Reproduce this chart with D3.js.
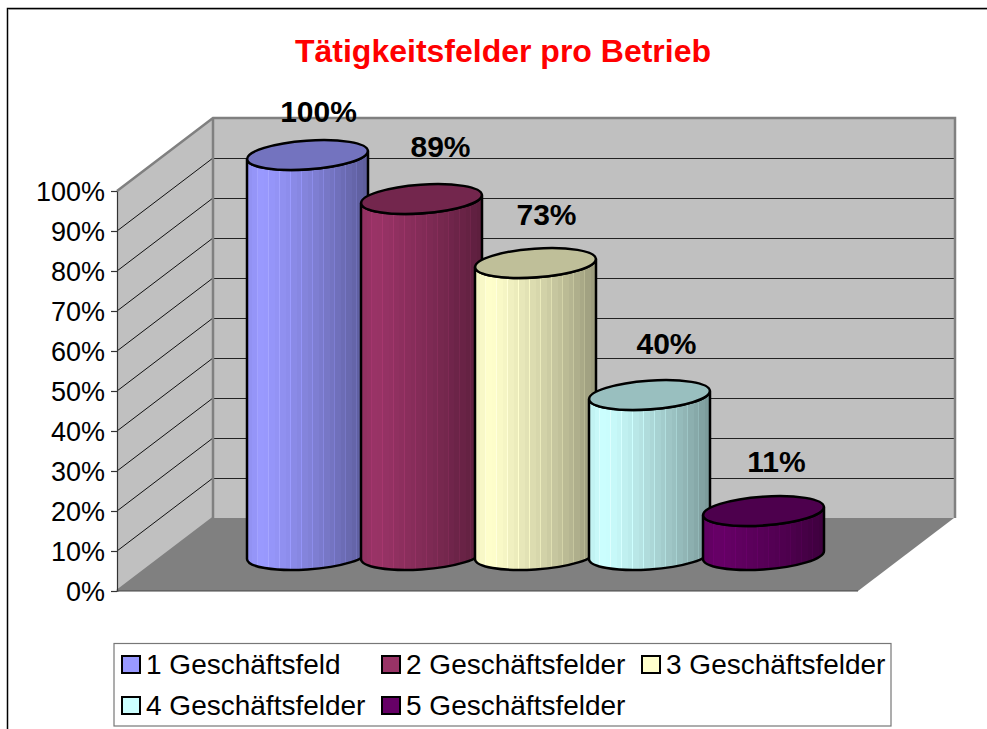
<!DOCTYPE html>
<html>
<head>
<meta charset="utf-8">
<script src="https://cdn.jsdelivr.net/npm/d3@7"></script>
<style>
  body { margin: 0; background: #fff; }
  svg { display: block; font-family: "Liberation Sans", Arial, sans-serif; }
</style>
</head>
<body>
<svg id="chart" width="987" height="729"></svg>
<script>
const categories = ["1 Geschäftsfeld", "2 Geschäftsfelder", "3 Geschäftsfelder", "4 Geschäftsfelder", "5 Geschäftsfelder"];
const values = [1.0, 0.89, 0.73, 0.4, 0.11];
const valueLabels = ["100%", "89%", "73%", "40%", "11%"];
const colors = ["#9999FF", "#993366", "#FFFFCC", "#CCFFFF", "#660066"];
const ticks = [0, 0.1, 0.2, 0.3, 0.4, 0.5, 0.6, 0.7, 0.8, 0.9, 1];

// label offsets from the top of each cylinder
const labelDx = [11, 19, 11, 17, 13];
const labelDy = [-33, -42, -38, -41, -39];
const legendX = [122, 382, 642, 122, 382];
const legendY = [665, 665, 665, 706, 706];

const depthX = 96, depthY = 73;
const left = 117, right = 858;
const rx = 60.5, ry = 14.4, tilt = -4, edgeDy = 4;
const liftY = 36;

const svg = d3.select("#chart");
const y = d3.scaleLinear().domain([0, 1]).range([591, 191]);
const x = d3.scaleBand().domain(categories).range([250.5, 820.5]);

// outer frame
svg.append("path").attr("d", "M987,8.5H7.5V729").attr("fill", "none").attr("stroke", "#000").attr("stroke-width", 1.5);
svg.append("path").attr("d", "M987,9.5H8").attr("fill", "none").attr("stroke", "#999").attr("stroke-width", 1);

svg.append("text")
  .attr("x", 503).attr("y", 62)
  .attr("text-anchor", "middle")
  .attr("font-size", 32).attr("font-weight", "bold")
  .attr("fill", "#FF0000")
  .text("Tätigkeitsfelder pro Betrieb");

// walls and floor
const poly = (pts) => "M" + pts.map((p) => p.join(",")).join("L") + "Z";
svg.append("path")
  .attr("d", poly([[left, y(1)], [left + depthX, y(1) - depthY], [left + depthX, y(0) - depthY], [left, y(0)]]))
  .attr("fill", "#C0C0C0");
svg.append("path")
  .attr("d", poly([[left + depthX, y(1) - depthY], [right + depthX + 1, y(1) - depthY], [right + depthX + 1, y(0) - depthY], [left + depthX, y(0) - depthY]]))
  .attr("fill", "#C0C0C0");
svg.append("path")
  .attr("d", poly([[left, y(0)], [left + depthX, y(0) - depthY], [right + depthX, y(0) - depthY], [right, y(0)]]))
  .attr("fill", "#808080");

// gridlines, side wall then back wall
ticks.slice(1, -1).forEach((t) => {
  svg.append("line")
    .attr("x1", left).attr("y1", y(t))
    .attr("x2", left + depthX).attr("y2", y(t) - depthY)
    .attr("stroke", "#111").attr("stroke-width", 1);
  svg.append("line")
    .attr("x1", left + depthX).attr("y1", y(t) - depthY + 0.5)
    .attr("x2", right + depthX).attr("y2", y(t) - depthY + 0.5)
    .attr("stroke", "#222").attr("stroke-width", 1);
});

// grey wall edges
svg.append("path")
  .attr("d", `M${left},${y(1)}L${left + depthX},${y(1) - depthY}H${right + depthX + 1}V${y(0) - depthY}`)
  .attr("fill", "none").attr("stroke", "#808080").attr("stroke-width", 2.5);
svg.append("path")
  .attr("d", `M${left + depthX},${y(1) - depthY}V${y(0) - depthY}L${left},${y(0)}`)
  .attr("fill", "none").attr("stroke", "#808080").attr("stroke-width", 2.5);

// y axis
const axis = svg.append("g")
  .attr("transform", `translate(${left},0)`)
  .call(d3.axisLeft(y).tickValues(ticks).tickFormat(d3.format(".0%")).tickSize(6).tickPadding(6).tickSizeOuter(0));
axis.selectAll("path, line").attr("stroke", "#333").attr("stroke-width", 1.2);
axis.selectAll("text").attr("font-size", 27).attr("dy", "0.36em").attr("fill", "#000").attr("font-family", "Liberation Sans");
svg.append("line")
  .attr("x1", left).attr("y1", y(0)).attr("x2", right).attr("y2", y(0))
  .attr("stroke", "#444").attr("stroke-width", 1.2);

// shading across a cylinder, in flat strips like the original
const defs = svg.append("defs");
const strips = 22;
const shade = (t) => (t < 0.12 ? 0.94 + t / 2 : 1 - 0.4 * Math.pow((t - 0.12) / 0.88, 1.2));
colors.forEach((c, i) => {
  const g = defs.append("linearGradient").attr("id", `cyl${i}`);
  const base = d3.rgb(c);
  d3.range(strips).forEach((s) => {
    const k = shade((s + 0.5) / strips);
    const col = d3.rgb(base.r * k, base.g * k, base.b * k).formatHex();
    const edge = d3.rgb(base.r * k, base.g * k, base.b * k).brighter(0.25).formatHex();
    const end = (s + 1) / strips;
    g.append("stop").attr("offset", s / strips).attr("stop-color", col);
    g.append("stop").attr("offset", end - 0.008).attr("stop-color", col);
    // faint seam between strips
    g.append("stop").attr("offset", end - 0.008).attr("stop-color", s % 2 ? edge : col);
    g.append("stop").attr("offset", end).attr("stop-color", s % 2 ? edge : col);
  });
});

categories.forEach((name, i) => {
  const cx = x(name) + x.bandwidth() / 2;
  const topY = y(values[i]) - liftY;
  const botY = y(0) - liftY;
  const arc = (sweep, px, py) => `A${rx},${ry} ${tilt} 0 ${sweep} ${px},${py}`;
  const g = svg.append("g").attr("stroke", "#000").attr("stroke-width", 2.5).attr("stroke-linejoin", "round");

  g.append("path")
    .attr("d",
      `M${cx - rx},${topY + edgeDy}L${cx - rx},${botY + edgeDy}` +
      arc(0, cx + rx, botY - edgeDy) +
      `L${cx + rx},${topY - edgeDy}` +
      arc(1, cx - rx, topY + edgeDy) + "Z")
    .attr("fill", `url(#cyl${i})`);

  const b = d3.rgb(colors[i]);
  g.append("ellipse")
    .attr("transform", `translate(${cx},${topY}) rotate(${tilt})`)
    .attr("rx", rx).attr("ry", ry)
    .attr("fill", d3.rgb(b.r * 0.75, b.g * 0.75, b.b * 0.75).formatHex());
});

// data labels
categories.forEach((name, i) => {
  svg.append("text")
    .attr("x", x(name) + x.bandwidth() / 2 + labelDx[i])
    .attr("y", y(values[i]) - liftY + labelDy[i])
    .attr("text-anchor", "middle")
    .attr("font-size", 30).attr("font-weight", "bold")
    .text(valueLabels[i]);
});

// legend
svg.append("rect")
  .attr("x", 114).attr("y", 643.5).attr("width", 777).attr("height", 82.5)
  .attr("fill", "#fff").attr("stroke", "#777").attr("stroke-width", 1.2);
categories.forEach((name, i) => {
  svg.append("rect")
    .attr("x", legendX[i]).attr("y", legendY[i] - 9)
    .attr("width", 18).attr("height", 17)
    .attr("fill", colors[i]).attr("stroke", "#000").attr("stroke-width", 2);
  svg.append("text")
    .attr("x", legendX[i] + 24).attr("y", legendY[i] + 9)
    .attr("font-size", 28)
    .text(name);
});
</script>
</body>
</html>
